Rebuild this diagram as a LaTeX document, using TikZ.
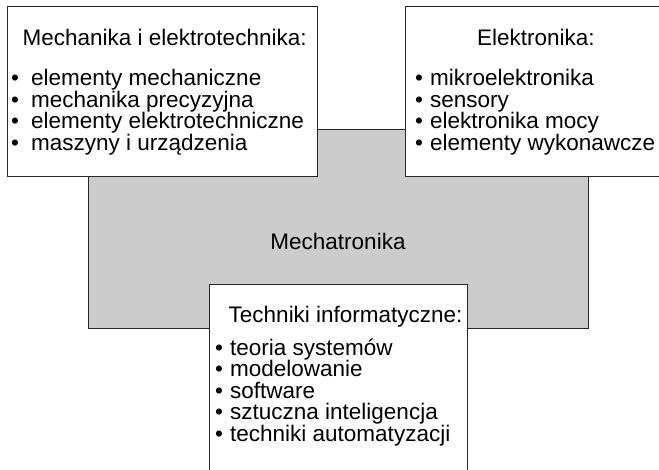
\documentclass[tikz,border=0pt]{standalone}
\usepackage{fontspec}
\setmainfont{Liberation Sans}
\begin{document}
\begin{tikzpicture}[x=1pt,y=-1pt,
  box/.style={draw=black!85,line width=1pt,fill=white},
  graybox/.style={draw=black!85,line width=1pt,fill=black!20},
  txt/.style={anchor=base west,inner sep=0pt,font=\fontsize{22.5}{21.5}\selectfont},
  ctxt/.style={anchor=base,inner sep=0pt,font=\fontsize{22.5}{21.5}\selectfont}]
\useasboundingbox (0,0) rectangle (659,470);
\clip (0,0) rectangle (659,470);
% boxes
\path[graybox] (88,130) rectangle (588,329);
\node[inner sep=0pt] (gray) at (338,229.5) {};
\path[box] (7,7) rectangle (317,177);
\path[box] (405,7) rectangle (671,177);
\path[box] (209,285) rectangle (467,480);
% texts
\node[ctxt] (mech) at (338,250) {Mechatronika};
% box 1
\node[txt] (t1) at (22.5,46) {Mechanika i elektrotechnika:};
\foreach \y/\s [count=\i] in {86/elementy mechaniczne,107.5/mechanika precyzyjna,129/elementy elektrotechniczne,150.5/maszyny i urządzenia}{
  \node[txt] (a\i b) at (11,\y) {•};
  \node[txt] (a\i) at (31,\y) {\s};
}
% box 2
\node[txt] (t2) at (477,46) {Elektronika:};
\foreach \y/\s [count=\i] in {86/mikroelektronika,107.5/sensory,129/elektronika mocy,150.5/elementy wykonawcze}{
  \node[txt] (e\i b) at (415,\y) {•};
  \node[txt] (e\i) at (430,\y) {\s};
}
% box 3
\node[txt] (t3) at (228.5,323) {Techniki informatyczne:};
\foreach \y/\s [count=\i] in {355.5/teoria systemów,377/modelowanie,398.5/software,420/sztuczna inteligencja,441.5/techniki automatyzacji}{
  \node[txt] (i\i b) at (215,\y) {•};
  \node[txt] (i\i) at (230,\y) {\s};
}
\end{tikzpicture}
\end{document}
